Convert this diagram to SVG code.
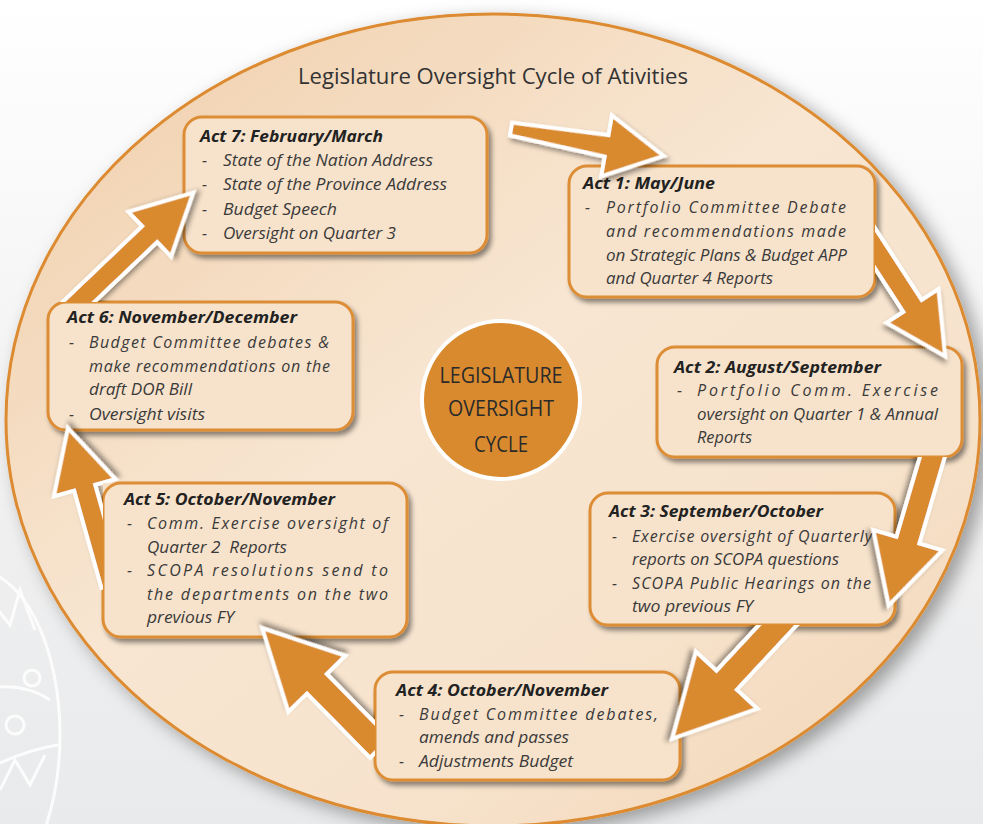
<svg xmlns="http://www.w3.org/2000/svg" width="983" height="824" viewBox="0 0 983 824">
<defs>
  <linearGradient id="bg" x1="0" y1="0" x2="0" y2="1">
    <stop offset="0" stop-color="#ffffff"/>
    <stop offset="0.55" stop-color="#f1f1f2"/>
    <stop offset="1" stop-color="#e9eaeb"/>
  </linearGradient>
  <linearGradient id="ell" x1="0.05" y1="0" x2="0.95" y2="1">
    <stop offset="0" stop-color="#f0cfab"/>
    <stop offset="0.45" stop-color="#f8e6d2"/>
    <stop offset="0.7" stop-color="#f7e3cd"/>
    <stop offset="1" stop-color="#f2d6b7"/>
  </linearGradient>
  <filter id="ellShadow" x="-10%" y="-10%" width="125%" height="125%">
    <feDropShadow dx="8" dy="6" stdDeviation="9" flood-color="#000" flood-opacity="0.35"/>
  </filter>
  <filter id="boxShadow" x="-10%" y="-10%" width="125%" height="130%">
    <feDropShadow dx="3" dy="4" stdDeviation="2.5" flood-color="#000" flood-opacity="0.45"/>
  </filter>
  <filter id="arrShadow" x="-20%" y="-20%" width="140%" height="140%">
    <feDropShadow dx="3" dy="3" stdDeviation="2.5" flood-color="#000" flood-opacity="0.4"/>
  </filter>
  <clipPath id="clipB"><path clip-rule="evenodd" d="M0,0H983V824H0Z M569,166H875V297H569Z"/></clipPath>
  <clipPath id="clipC"><path clip-rule="evenodd" d="M0,0H983V824H0Z M657,347H962V457H657Z"/></clipPath>
  <clipPath id="clipD"><path clip-rule="evenodd" d="M0,0H983V824H0Z M590,493H895V625H590Z"/></clipPath>
  <clipPath id="clipE"><path clip-rule="evenodd" d="M0,0H983V824H0Z M375,672H680V780H375Z"/></clipPath>
  <clipPath id="clipF"><path clip-rule="evenodd" d="M0,0H983V824H0Z M103,483H407V637H103Z"/></clipPath>
  <clipPath id="clipG"><path clip-rule="evenodd" d="M0,0H983V824H0Z M48,302H353V430H48Z"/></clipPath>
  <style>
    .box { fill: #f7e2cb; stroke: #dc8d35; stroke-width: 3; }
    .arrow { fill: #da8a2f; stroke: #ffffff; stroke-width: 4; stroke-linejoin: miter; }
    .head { font-family: "Open Sans", "Liberation Sans", sans-serif; font-size: 16.5px; font-weight: bold; font-style: italic; fill: #222222; }
    .body { font-family: "Open Sans", "Liberation Sans", sans-serif; font-size: 16px; font-style: italic; fill: #3a3a3a; }
    .title { font-family: "Open Sans", "Liberation Sans", sans-serif; font-size: 22px; fill: #333333; }
    .center { font-family: "Open Sans", "Liberation Sans", sans-serif; font-size: 22px; fill: #2a2a2a; text-anchor: middle; }
  </style>
</defs>

<rect x="0" y="0" width="983" height="824" fill="url(#bg)"/>
<g id="decoration" fill="none" stroke="#ffffff" stroke-width="3" opacity="0.85">
  <ellipse cx="-25" cy="735" rx="85" ry="165"/>
  <path d="M-10,600 L10,625 L20,590 L35,630"/>
  <path d="M-20,690 Q20,680 50,700"/>
  <circle cx="32" cy="678" r="8"/>
  <circle cx="15" cy="725" r="9"/>
  <path d="M-15,770 Q25,750 58,745"/>
  <path d="M0,790 L15,760 L30,785 L45,755"/>
</g>

<ellipse id="background-ellipse" cx="493" cy="420" rx="487" ry="406" fill="url(#ell)" stroke="#dc8b30" stroke-width="3" filter="url(#ellShadow)"/>

<text class="title" x="298" y="84" textLength="390" lengthAdjust="spacingAndGlyphs">Legislature Oversight Cycle of Ativities</text>

<g id="act7">
  <rect class="box" x="184" y="117" width="303" height="136" rx="18" filter="url(#boxShadow)"/>
  <text class="head" x="200" y="142" textLength="183" lengthAdjust="spacingAndGlyphs">Act 7: February/March</text>
  <text class="body" x="202" y="166">-</text>
  <text class="body" x="223" y="166" textLength="210" lengthAdjust="spacingAndGlyphs">State of the Nation Address</text>
  <text class="body" x="202" y="190">-</text>
  <text class="body" x="223" y="190" textLength="224" lengthAdjust="spacingAndGlyphs">State of the Province Address</text>
  <text class="body" x="202" y="215">-</text>
  <text class="body" x="223" y="215" textLength="114" lengthAdjust="spacingAndGlyphs">Budget Speech</text>
  <text class="body" x="202" y="239">-</text>
  <text class="body" x="223" y="239" textLength="173" lengthAdjust="spacingAndGlyphs">Oversight on Quarter 3</text>
</g>

<g id="act1">
  <rect class="box" x="569" y="166" width="306" height="131" rx="18" filter="url(#boxShadow)"/>
  <text class="head" x="583" y="189" textLength="132" lengthAdjust="spacingAndGlyphs">Act 1: May/June</text>
  <text class="body" x="585" y="213">-</text>
  <text class="body" x="606" y="213" textLength="240" lengthAdjust="spacing">Portfolio Committee Debate</text>
  <text class="body" x="606" y="237" textLength="240" lengthAdjust="spacing">and recommendations made</text>
  <text class="body" x="606" y="261" textLength="241" lengthAdjust="spacingAndGlyphs">on Strategic Plans &amp; Budget APP</text>
  <text class="body" x="606" y="284" textLength="167" lengthAdjust="spacingAndGlyphs">and Quarter 4 Reports</text>
</g>

<g id="act2">
  <rect class="box" x="657" y="347" width="305" height="110" rx="18" filter="url(#boxShadow)"/>
  <text class="head" x="674" y="373" textLength="207" lengthAdjust="spacingAndGlyphs">Act 2: August/September</text>
  <text class="body" x="677" y="396">-</text>
  <text class="body" x="697" y="396" textLength="241" lengthAdjust="spacing">Portfolio Comm. Exercise</text>
  <text class="body" x="697" y="420" textLength="241" lengthAdjust="spacingAndGlyphs">oversight on Quarter 1 &amp; Annual</text>
  <text class="body" x="697" y="443" textLength="55" lengthAdjust="spacingAndGlyphs">Reports</text>
</g>

<g id="act3">
  <rect class="box" x="590" y="493" width="305" height="132" rx="18" filter="url(#boxShadow)"/>
  <text class="head" x="609" y="517" textLength="214" lengthAdjust="spacingAndGlyphs">Act 3: September/October</text>
  <text class="body" x="612" y="542">-</text>
  <text class="body" x="632" y="542" textLength="240" lengthAdjust="spacing">Exercise oversight of Quarterly</text>
  <text class="body" x="632" y="565" textLength="207" lengthAdjust="spacingAndGlyphs">reports on SCOPA questions</text>
  <text class="body" x="612" y="589">-</text>
  <text class="body" x="632" y="589" textLength="239" lengthAdjust="spacing">SCOPA Public Hearings on the</text>
  <text class="body" x="632" y="612" textLength="121" lengthAdjust="spacingAndGlyphs">two previous FY</text>
</g>

<g id="act4">
  <rect class="box" x="375" y="672" width="305" height="108" rx="18" filter="url(#boxShadow)"/>
  <text class="head" x="396" y="696" textLength="212" lengthAdjust="spacingAndGlyphs">Act 4: October/November</text>
  <text class="body" x="399" y="720">-</text>
  <text class="body" x="419" y="720" textLength="239" lengthAdjust="spacing">Budget Committee debates,</text>
  <text class="body" x="419" y="743" textLength="150" lengthAdjust="spacingAndGlyphs">amends and passes</text>
  <text class="body" x="399" y="767">-</text>
  <text class="body" x="419" y="767" textLength="154" lengthAdjust="spacingAndGlyphs">Adjustments Budget</text>
</g>

<g id="act5">
  <rect class="box" x="103" y="483" width="304" height="154" rx="18" filter="url(#boxShadow)"/>
  <text class="head" x="124" y="505" textLength="211" lengthAdjust="spacingAndGlyphs">Act 5: October/November</text>
  <text class="body" x="127" y="529">-</text>
  <text class="body" x="147" y="529" textLength="241" lengthAdjust="spacing">Comm. Exercise oversight of</text>
  <text class="body" x="147" y="553" textLength="140" lengthAdjust="spacingAndGlyphs" xml:space="preserve">Quarter 2  Reports</text>
  <text class="body" x="127" y="576">-</text>
  <text class="body" x="147" y="576" textLength="241" lengthAdjust="spacing">SCOPA resolutions send to</text>
  <text class="body" x="147" y="600" textLength="241" lengthAdjust="spacing">the departments on the two</text>
  <text class="body" x="147" y="623" textLength="87" lengthAdjust="spacingAndGlyphs">previous FY</text>
</g>

<g id="act6">
  <rect class="box" x="48" y="302" width="305" height="128" rx="18" filter="url(#boxShadow)"/>
  <text class="head" x="67" y="323" textLength="230" lengthAdjust="spacingAndGlyphs">Act 6: November/December</text>
  <text class="body" x="69" y="348">-</text>
  <text class="body" x="89" y="348" textLength="240" lengthAdjust="spacing">Budget Committee debates &amp;</text>
  <text class="body" x="89" y="372" textLength="241" lengthAdjust="spacing">make recommendations on the</text>
  <text class="body" x="89" y="395" textLength="103" lengthAdjust="spacingAndGlyphs">draft DOR Bill</text>
  <text class="body" x="69" y="420">-</text>
  <text class="body" x="89" y="420" textLength="116" lengthAdjust="spacingAndGlyphs">Oversight visits</text>
</g>

<g id="center">
  <circle cx="501" cy="400" r="79" fill="#d98a2f" stroke="#ffffff" stroke-width="4"/>
  <text class="center" x="501" y="383" textLength="123" lengthAdjust="spacingAndGlyphs">LEGISLATURE</text>
  <text class="center" x="501" y="416" textLength="106" lengthAdjust="spacingAndGlyphs">OVERSIGHT</text>
  <text class="center" x="501" y="452" textLength="54" lengthAdjust="spacingAndGlyphs">CYCLE</text>
</g>

<g id="connectors">
  <g id="arrow-7-1"><polygon class="arrow" filter="url(#arrShadow)" transform="translate(511,129) rotate(10)" points="0,-6.5 97,-11 97,-31 155,0 97,31 97,11 0,6.5"/></g>
  <g id="arrow-1-2" clip-path="url(#clipB)"><polygon class="arrow" filter="url(#arrShadow)" transform="translate(858,222) rotate(57)" points="0,-11 100,-11 100,-31 160,0 100,31 100,11 0,11"/></g>
  <g id="arrow-2-3" clip-path="url(#clipC)"><polygon class="arrow" filter="url(#arrShadow)" transform="translate(935,448) rotate(106.4)" points="0,-12 96,-12 96,-36 164,0 96,36 96,12 0,12"/></g>
  <g id="arrow-3-4" clip-path="url(#clipD)"><polygon class="arrow" filter="url(#arrShadow)" transform="translate(790,612) rotate(132.9)" points="0,-14 93,-14 93,-42 173,0 93,42 93,14 0,14"/></g>
  <g id="arrow-4-5" clip-path="url(#clipE)"><polygon class="arrow" filter="url(#arrShadow)" transform="translate(380,748) rotate(225.5)" points="0,-14 90,-14 90,-40 168,0 90,40 90,14 0,14"/></g>
  <g id="arrow-5-6" clip-path="url(#clipF)"><polygon class="arrow" filter="url(#arrShadow)" transform="translate(112,585) rotate(254.3)" points="0,-11 101,-11 101,-32 163,0 101,32 101,11 0,11"/></g>
  <g id="arrow-6-7" clip-path="url(#clipG)"><polygon class="arrow" filter="url(#arrShadow)" transform="translate(70,310) rotate(-43.6)" points="0,-11 110,-11 110,-31 170,0 110,31 110,11 0,11"/></g>
</g>
</svg>
